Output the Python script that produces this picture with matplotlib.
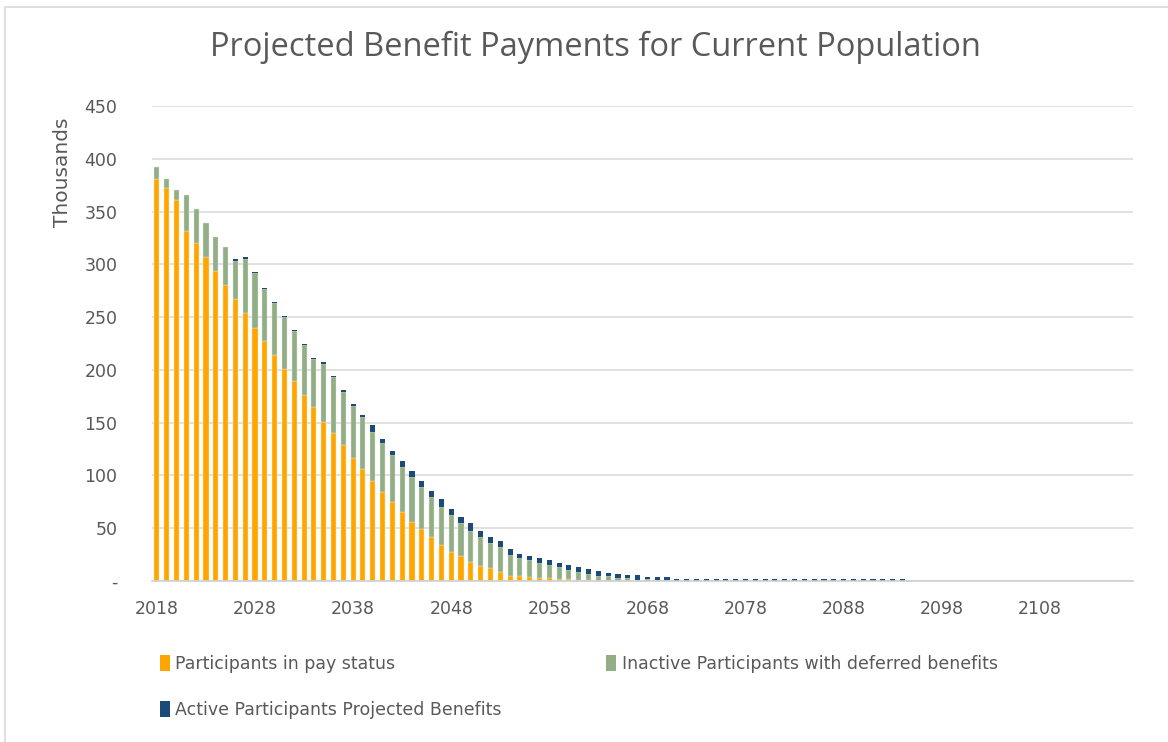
import numpy as np
import matplotlib
matplotlib.use("Agg")
import matplotlib.pyplot as plt
from matplotlib.patches import Rectangle, Patch

plt.rcParams['font.family'] = ['DejaVu Sans']

# Projection years (category axis runs 2018-2117)
years = list(range(2018, 2118))

# Thousands, 2018 onwards
pay_status = [381, 372, 360.5, 332, 320, 307, 294, 280.5, 267, 254,
              240, 227, 214, 201, 189.5, 176, 165, 151, 140, 128.4,
              117, 106, 94.6, 84.7, 75.2, 65.7, 56.3, 49, 41.4, 33.9,
              27.8, 23.7, 18.3, 14.2, 12.6, 8.8, 5, 4.5, 3.5, 2.8,
              2.5, 2.3, 1.6, 1, 0.7, 0.4, 0.2]
deferred = [11.5, 9, 9.5, 34, 32.6, 32, 32, 36, 36.5, 51,
            51.5, 49.5, 49, 49, 47, 47.5, 45, 55, 53, 51,
            49, 49, 47, 46, 43.7, 42, 42, 39.6, 38, 36,
            34.5, 31, 28.8, 27.3, 23.2, 23.2, 20, 17, 16, 14.3,
            12.6, 10.5, 8.9, 7.9, 5.7, 4.7, 4.3, 2.6, 3.2, 1.1,
            1.8, 0.5, 1]
active = [0, 0, 0, 0, 0, 0, 0, 0, 1.5, 1.5,
          1.5, 1.5, 1.5, 1.5, 1.5, 1.5, 1.5, 1.5, 1.5, 1.5,
          2, 2, 6.3, 3.8, 4.4, 5.7, 6, 6.3, 6, 7.9,
          6, 5.7, 7.6, 5.7, 5.7, 5.7, 5, 4.5, 4, 4.4,
          4.4, 4.2, 4.7, 4.4, 5, 4.4, 3.1, 4.4, 2.5, 4.4,
          2, 3, 2.5] + [2.0] * 24

series_names = ["Participants in pay status",
                "Inactive Participants with deferred benefits",
                "Active Participants Projected Benefits"]
colors = ["#ffa500", "#93ad86", "#1c4b7a"]

n = len(years)
def pad(v):
    return np.array(v + [0] * (n - len(v)), dtype=float)

s1, s2, s3 = pad(pay_status), pad(deferred), pad(active)

grey = "#595959"
fig = plt.figure(figsize=(11.68, 7.42), dpi=100)
# chart area border
fig.patches.append(Rectangle((5 / 1168, -0.1), 1.2, (1 - 7 / 742) + 0.1,
                             transform=fig.transFigure, fill=False,
                             edgecolor="#d9d9d9", linewidth=1.2))

ax = fig.add_axes([152 / 1168, 1 - 581 / 742, (1133 - 152) / 1168, (581 - 106) / 742])
w = 0.52
ax.bar(years, s1, width=w, color=colors[0], edgecolor="#ffe9c0", linewidth=0.3, zorder=3)
ax.bar(years, s2, width=w, bottom=s1, color=colors[1], edgecolor="#e0e8dc", linewidth=0.3, zorder=3)
ax.bar(years, s3, width=w, bottom=s1 + s2, color=colors[2], linewidth=0, zorder=3)

ax.set_xlim(2017.5, 2117.5)
ax.set_ylim(0, 450)
ax.set_yticks(range(0, 451, 50))
ax.set_yticklabels(["-"] + [str(v) for v in range(50, 451, 50)])
ax.set_xticks(range(2018, 2109, 10))
ax.tick_params(axis="both", length=0, colors=grey, labelsize=12.5)
ax.tick_params(axis="y", pad=25)
ax.tick_params(axis="x", pad=14)
ax.grid(axis="y", color="#d9d9d9", linewidth=1.1, zorder=0)
for side in ["top", "right", "left"]:
    ax.spines[side].set_visible(False)
ax.spines["bottom"].set_color("#d0d0d0")
ax.spines["bottom"].set_linewidth(1.2)
ax.spines["bottom"].set_zorder(4)

fig.text(62 / 1168, 1 - 172 / 742, "Thousands", rotation=90, ha="center", va="center",
         color=grey, fontsize=14.5)
fig.text(595 / 1168, 1 - 47 / 742, "Projected Benefit Payments for Current Population",
         ha="center", va="center", color=grey, fontsize=23.5,
         family=["Open Sans", "DejaVu Sans"])

handles = [Patch(facecolor=c) for c in colors]
order = [0, 2, 1]
fig.legend([handles[i] for i in order], [series_names[i] for i in order],
           ncol=2, loc="upper left", bbox_to_anchor=(144 / 1168, 1 - 639 / 742),
           frameon=False, handlelength=0.6, handleheight=1.1, handletextpad=0.3,
           columnspacing=6.0, labelspacing=1.6, fontsize=12.5, labelcolor=grey)

fig.savefig("out.png", dpi=100)
